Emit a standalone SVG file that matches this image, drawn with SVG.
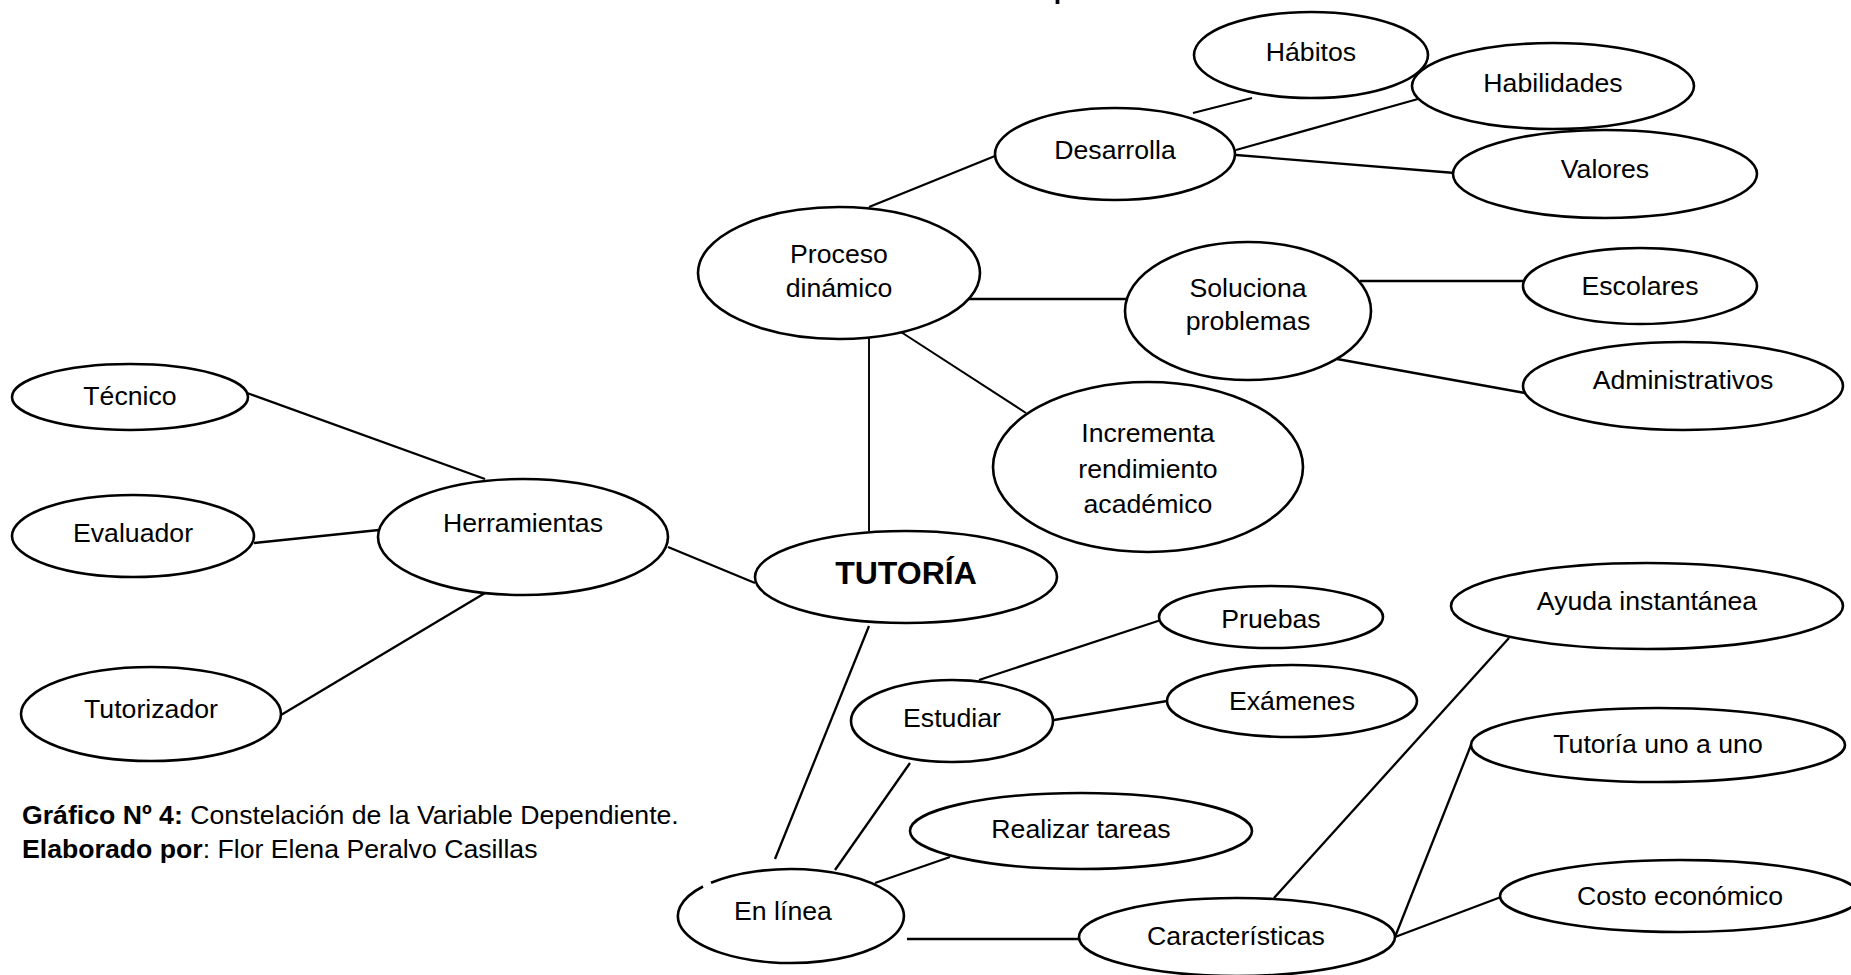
<svg xmlns="http://www.w3.org/2000/svg" width="1851" height="975" viewBox="0 0 1851 975">
<style>
  .n { fill: #ffffff; stroke: #000000; stroke-width: 2.6; }
  .c line { stroke: #000000; stroke-width: 2.3; stroke-linecap: butt; }
  text { font-family: "Liberation Sans", Arial, sans-serif; font-size: 26.67px; fill: #000000; text-anchor: middle; }
  .b { font-weight: bold; }
  .cap { text-anchor: start; }
</style>
<rect x="0" y="0" width="1851" height="975" fill="#ffffff"/>
<text x="1062" y="-1" class="b">p</text>

<g id="connectors" class="c">
  <line x1="247" y1="393" x2="485" y2="479"/>
  <line x1="254" y1="543" x2="379" y2="530"/>
  <line x1="281" y1="715" x2="485" y2="593"/>
  <line x1="668" y1="547" x2="755" y2="583"/>
  <line x1="869" y1="338" x2="869" y2="531" style="stroke-width:1.9"/>
  <line x1="869" y1="626" x2="775" y2="859"/>
  <line x1="869" y1="207" x2="995" y2="156"/>
  <line x1="966" y1="299" x2="1126" y2="299"/>
  <line x1="901" y1="332" x2="1026" y2="413" style="stroke-width:2"/>
  <line x1="1193" y1="113" x2="1252" y2="98"/>
  <line x1="1236" y1="150" x2="1418" y2="99"/>
  <line x1="1236" y1="155" x2="1455" y2="173"/>
  <line x1="1360" y1="281" x2="1523" y2="281"/>
  <line x1="1337" y1="359" x2="1525" y2="393"/>
  <line x1="979" y1="680" x2="1161" y2="620"/>
  <line x1="1054" y1="720" x2="1167" y2="701"/>
  <line x1="910" y1="763" x2="835" y2="870"/>
  <line x1="875" y1="883" x2="950" y2="857"/>
  <line x1="907" y1="939" x2="1079" y2="939"/>
  <line x1="1274" y1="898" x2="1509" y2="638"/>
  <line x1="1395" y1="937" x2="1471" y2="745"/>
  <line x1="1395" y1="937" x2="1501" y2="897"/>
</g>

<g id="habitos"><ellipse class="n" cx="1311" cy="55" rx="117" ry="43"/><text x="1311" y="61">Hábitos</text></g>
<g id="habilidades"><ellipse class="n" cx="1553" cy="86" rx="141" ry="43"/><text x="1553" y="92">Habilidades</text></g>
<g id="valores"><ellipse class="n" cx="1605" cy="174" rx="152" ry="44"/><text x="1605" y="178">Valores</text></g>
<g id="desarrolla"><ellipse class="n" cx="1115" cy="154" rx="120" ry="46"/><text x="1115" y="159">Desarrolla</text></g>
<g id="proceso"><ellipse class="n" cx="839" cy="273" rx="141" ry="66"/><text x="839" y="263">Proceso</text><text x="839" y="297">dinámico</text></g>
<g id="soluciona"><ellipse class="n" cx="1248" cy="311" rx="123" ry="69"/><text x="1248" y="297">Soluciona</text><text x="1248" y="330">problemas</text></g>
<g id="escolares"><ellipse class="n" cx="1640" cy="286" rx="117" ry="38"/><text x="1640" y="295">Escolares</text></g>
<g id="administrativos"><ellipse class="n" cx="1683" cy="386" rx="160" ry="44"/><text x="1683" y="389">Administrativos</text></g>
<g id="incrementa"><ellipse class="n" cx="1148" cy="467" rx="155" ry="85"/><text x="1148" y="442">Incrementa</text><text x="1148" y="478">rendimiento</text><text x="1148" y="513">académico</text></g>
<g id="tecnico"><ellipse class="n" cx="130" cy="397" rx="118" ry="33"/><text x="130" y="405">Técnico</text></g>
<g id="evaluador"><ellipse class="n" cx="133" cy="536" rx="121" ry="41"/><text x="133" y="542">Evaluador</text></g>
<g id="herramientas"><ellipse class="n" cx="523" cy="537" rx="145" ry="58"/><text x="523" y="532">Herramientas</text></g>
<g id="tutorizador"><ellipse class="n" cx="151" cy="714" rx="130" ry="47"/><text x="151" y="718">Tutorizador</text></g>
<g id="tutoria"><ellipse class="n" cx="906" cy="577" rx="151" ry="46"/><text x="906" y="584" class="b" style="font-size:32px">TUTORÍA</text></g>
<g id="pruebas"><ellipse class="n" cx="1271" cy="617" rx="112" ry="31"/><text x="1271" y="628">Pruebas</text></g>
<g id="estudiar"><ellipse class="n" cx="952" cy="721" rx="101" ry="41"/><text x="952" y="727">Estudiar</text></g>
<g id="examenes"><ellipse class="n" cx="1292" cy="701" rx="125" ry="36"/><text x="1292" y="710">Exámenes</text></g>
<g id="realizar"><ellipse class="n" cx="1081" cy="831" rx="171" ry="38"/><text x="1081" y="838">Realizar tareas</text></g>
<g id="enlinea"><path class="n" d="M 711 882.8 A 113 47 0 1 1 703 886.5"/><text x="783" y="920">En línea</text></g>
<g id="caracteristicas"><ellipse class="n" cx="1237" cy="937" rx="158" ry="39"/><text x="1236" y="945">Características</text></g>
<g id="ayuda"><ellipse class="n" cx="1647" cy="606" rx="196" ry="43"/><text x="1647" y="610">Ayuda instantánea</text></g>
<g id="tutoria-uno"><ellipse class="n" cx="1658" cy="745" rx="187" ry="37"/><text x="1658" y="753">Tutoría uno a uno</text></g>
<g id="costo"><ellipse class="n" cx="1680" cy="896" rx="180" ry="36"/><text x="1680" y="905">Costo económico</text></g>

<g id="caption">
  <text x="22" y="824" class="cap"><tspan class="b">Gráfico Nº 4:</tspan> Constelación de la Variable Dependiente.</text>
  <text x="22" y="858" class="cap"><tspan class="b">Elaborado por</tspan>: Flor Elena Peralvo Casillas</text>
</g>
</svg>
